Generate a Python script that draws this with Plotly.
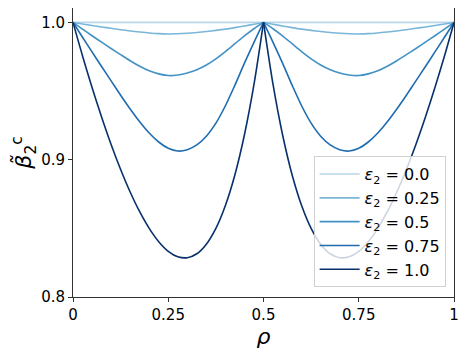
import plotly.graph_objects as go

# rho grid (step 0.025) and curve values
rho = [0.0, 0.025, 0.05, 0.075, 0.1, 0.125, 0.15, 0.175, 0.2, 0.225, 0.25,
       0.275, 0.3, 0.325, 0.35, 0.375, 0.4, 0.425, 0.45, 0.475, 0.5,
       0.525, 0.55, 0.575, 0.6, 0.625, 0.65, 0.675, 0.7, 0.725, 0.75,
       0.775, 0.8, 0.825, 0.85, 0.875, 0.9, 0.925, 0.95, 0.975, 1.0]

beta_eps_00 = [1.0] * 41
beta_eps_025 = [1.0, 0.9989, 0.9978, 0.9967, 0.9957, 0.9947, 0.9938, 0.9930, 0.9923, 0.9918, 0.9916,
                0.9917, 0.9921, 0.9927, 0.9934, 0.9942, 0.9951, 0.9962, 0.9974, 0.9987, 1.0,
                0.9987, 0.9974, 0.9962, 0.9951, 0.9942, 0.9934, 0.9927, 0.9921, 0.9917, 0.9916,
                0.9918, 0.9923, 0.9930, 0.9938, 0.9947, 0.9957, 0.9967, 0.9978, 0.9989, 1.0]
beta_eps_05 = [1.0, 0.9951, 0.9903, 0.9856, 0.9810, 0.9765, 0.9721, 0.9681, 0.9648, 0.9625, 0.9613,
               0.9617, 0.9632, 0.9656, 0.9690, 0.9735, 0.9788, 0.9845, 0.9902, 0.9954, 1.0,
               0.9954, 0.9902, 0.9845, 0.9788, 0.9735, 0.9690, 0.9656, 0.9632, 0.9617, 0.9613,
               0.9625, 0.9648, 0.9681, 0.9721, 0.9765, 0.9810, 0.9856, 0.9903, 0.9951, 1.0]
beta_eps_075 = [1.0, 0.9892, 0.9785, 0.9679, 0.9574, 0.9470, 0.9370, 0.9277, 0.9195, 0.9129, 0.9083,
                0.9063, 0.9073, 0.9108, 0.9171, 0.9266, 0.9393, 0.9543, 0.9703, 0.9855, 1.0,
                0.9855, 0.9703, 0.9543, 0.9393, 0.9266, 0.9171, 0.9108, 0.9073, 0.9063, 0.9083,
                0.9129, 0.9195, 0.9277, 0.9370, 0.9470, 0.9574, 0.9679, 0.9785, 0.9892, 1.0]
beta_eps_10 = [1.0, 0.9756, 0.9526, 0.9311, 0.9111, 0.8929, 0.8765, 0.8621, 0.8500, 0.8403, 0.8333,
               0.8293, 0.8286, 0.8315, 0.8385, 0.8500, 0.8667, 0.8891, 0.9182, 0.9548, 1.0,
               0.9548, 0.9182, 0.8891, 0.8667, 0.8500, 0.8385, 0.8315, 0.8286, 0.8293, 0.8333,
               0.8403, 0.8500, 0.8621, 0.8765, 0.8929, 0.9111, 0.9311, 0.9526, 0.9756, 1.0]

eps_labels = ["0.0", "0.25", "0.5", "0.75", "1.0"]
series = [beta_eps_00, beta_eps_025, beta_eps_05, beta_eps_075, beta_eps_10]
colors = ["#b9d6ea", "#7ab6d9", "#4292c6", "#1f6db1", "#08306b"]

x_ticks = [0, 0.25, 0.5, 0.75, 1]
x_ticktext = ["0", "0.25", "0.5", "0.75", "1"]
y_ticks = [0.8, 0.9, 1.0]
y_ticktext = ["0.8", "0.9", "1.0"]

FONT = "DejaVu Sans"

fig = go.Figure()
mid = rho.index(0.5)
for lab, ys, col in zip(eps_labels, series, colors):
    # two halves so the cusp at rho = 0.5 stays sharp
    for k, (xs, yv) in enumerate([(rho[:mid + 1], ys[:mid + 1]), (rho[mid:], ys[mid:])]):
        fig.add_trace(go.Scatter(
            x=xs, y=yv, mode="lines",
            line=dict(color=col, width=1.6, shape="spline", smoothing=0.8),
            name=f"<i>ε</i><sub>2</sub> = {lab}",
            legendgroup=lab, showlegend=(k == 0),
        ))

axis_common = dict(
    showline=True, mirror=True, linecolor="#333", linewidth=1,
    ticks="outside", ticklen=4, tickcolor="#333", tickwidth=1,
    showgrid=False, zeroline=False,
    tickfont=dict(family=FONT, size=15, color="black"),
)

fig.update_xaxes(
    range=[0, 1], tickvals=x_ticks, ticktext=x_ticktext,
    title=dict(text="<i>ρ</i>", font=dict(family=FONT, size=22, color="black"), standoff=2),
    **axis_common,
)
fig.update_yaxes(
    range=[0.8, 1.0105], tickvals=y_ticks, ticktext=y_ticktext,
    title=dict(text="<i>β̃</i><sub>2</sub><sup>c</sup>", font=dict(family=FONT, size=22, color="black"), standoff=6),
    **axis_common,
)

# the page body adds an 8px margin, so the figure is sized/offset for it
fig.update_layout(
    width=461, height=344,
    margin=dict(l=65, r=15, t=0, b=55),
    plot_bgcolor="white", paper_bgcolor="white",
    font=dict(family=FONT, color="black"),
    legend=dict(
        x=0.978, y=0.034, xanchor="right", yanchor="bottom",
        bgcolor="rgba(255,255,255,0.8)", bordercolor="#d0d0d0", borderwidth=1,
        font=dict(family=FONT, size=16, color="black"),
        itemwidth=40, tracegroupgap=0,
    ),
)

fig.write_html("out.html")
